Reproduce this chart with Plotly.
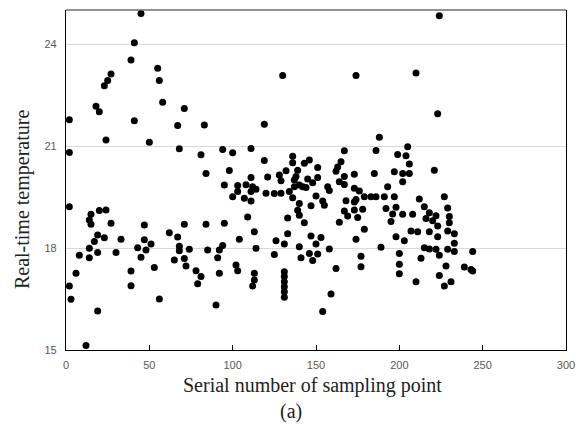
import plotly.graph_objects as go

# Serial number of sampling point (x) and real-time temperature (y)
sample_no = [
    2, 2, 2, 2, 3, 6, 8, 12, 14, 14, 14, 15, 15, 17, 19, 19, 18, 19, 20, 20,
    23, 23, 24, 24, 25, 27, 27, 30, 33, 39, 39, 39, 41, 41, 43, 45, 45, 47, 47, 48,
    50, 51, 53, 55, 56, 56, 58, 62, 65, 67, 67, 68, 68, 68, 71, 71, 71, 72, 74, 78,
    79, 81, 81, 83, 84, 84, 85, 90, 91, 92, 92, 94, 94, 95, 95, 98, 100, 100, 102, 103,
    103, 103, 104, 107, 108, 109, 111, 111, 111, 111, 112, 112, 113, 113, 113, 114, 114, 119, 119, 120,
    121, 125, 125, 126, 128, 129, 129, 130, 131, 131, 131, 131, 131, 131, 131, 132, 133, 133, 134, 136,
    136, 137, 138, 137, 136, 139, 139, 140, 140, 140, 140, 141, 143, 143, 142, 144, 145, 146, 146, 147,
    147, 148, 150, 151, 151, 150, 151, 153, 154, 154, 155, 157, 158, 158, 159, 162, 163, 165, 164, 164,
    167, 167, 167, 167, 168, 169, 173, 173, 173, 173, 174, 174, 174, 175, 176, 179, 178, 179, 177, 177,
    183, 186, 191, 197, 185, 186, 188, 189, 192, 193, 195, 196, 197, 198, 198, 199, 200, 200, 200, 202,
    202, 202, 203, 204, 205, 206, 206, 207, 208, 210, 210, 211, 212, 213, 215, 215, 216, 218, 218, 218,
    220, 221, 222, 222, 223, 224, 223, 223, 224, 224, 227, 227, 228, 229, 229, 229, 230, 230, 231, 233,
    233, 233, 239, 244, 243, 244, 148, 162,
]
temperature = [
    21.77, 20.81, 19.21, 16.88, 16.49, 17.26, 17.79, 15.13, 17.71, 17.99, 18.82, 18.99, 18.70, 18.19, 16.15, 17.87, 22.17, 18.38, 19.10, 22.01,
    22.77, 18.30, 19.12, 21.18, 22.93, 23.12, 18.73, 17.87, 18.26, 17.32, 16.89, 23.53, 24.04, 21.74, 18.01, 24.90, 17.73, 18.68, 18.24, 17.94,
    21.11, 18.12, 17.43, 23.29, 22.93, 16.50, 22.29, 18.45, 17.65, 21.60, 18.32, 20.92, 18.05, 17.92, 17.69, 18.70, 22.10, 17.47, 17.96, 17.33,
    16.95, 17.16, 20.74, 21.62, 20.19, 18.70, 17.94, 16.32, 17.71, 17.94, 17.26, 18.07, 20.90, 19.85, 18.73, 20.28, 20.80, 19.51, 17.50, 17.33,
    19.84, 19.66, 18.26, 19.46, 19.86, 18.91, 20.93, 20.07, 19.66, 19.38, 19.80, 16.88, 17.26, 17.06, 18.48, 17.99, 19.73, 21.64, 20.57, 19.61,
    20.09, 19.60, 17.81, 18.21, 20.15, 19.61, 19.98, 23.07, 18.12, 17.30, 17.16, 17.01, 16.86, 16.71, 16.55, 20.27, 18.42, 18.88, 19.66, 20.70,
    20.51, 20.00, 20.10, 19.80, 19.48, 19.11, 20.29, 19.85, 18.04, 18.96, 19.31, 17.71, 20.49, 18.74, 19.80, 19.78, 20.03, 20.59, 17.84, 19.24,
    18.35, 19.92, 19.53, 20.37, 20.07, 18.12, 17.82, 18.31, 16.13, 19.38, 19.26, 19.80, 19.69, 17.97, 16.65, 20.26, 20.38, 20.54, 19.95, 18.76,
    19.09, 20.86, 20.10, 19.87, 19.39, 18.94, 20.17, 19.76, 19.35, 19.12, 19.43, 18.26, 23.07, 18.90, 19.68, 19.51, 19.14, 18.55, 17.76, 17.45,
    19.51, 19.51, 19.51, 19.51, 20.19, 20.87, 21.26, 18.02, 19.16, 19.80, 18.78, 19.00, 20.24, 19.20, 18.33, 20.75, 17.84, 17.52, 17.24, 19.95,
    18.99, 20.19, 18.21, 20.71, 20.98, 20.47, 20.19, 18.50, 18.99, 23.15, 17.01, 18.48, 19.44, 17.70, 18.01, 19.21, 18.87, 19.04, 17.97, 18.48,
    18.80, 20.29, 18.95, 17.96, 21.95, 24.83, 18.65, 18.33, 17.79, 17.19, 19.51, 16.88, 17.47, 19.18, 18.50, 17.96, 18.93, 18.74, 17.01, 18.42,
    18.14, 17.90, 17.44, 17.90, 17.37, 17.32, 17.63, 17.40,
]

x_ticks = [0, 50, 100, 150, 200, 250, 300]
y_ticks = [15, 18, 21, 24]

x_title = "Serial number of sampling point"
y_title = "Real-time temperature"
caption = "(a)"

serif = "Liberation Serif, Times New Roman, serif"
sans = "Liberation Sans, Arial, sans-serif"

fig = go.Figure(
    go.Scatter(
        x=sample_no,
        y=temperature,
        mode="markers",
        marker=dict(color="black", size=7, line=dict(width=0)),
        showlegend=False,
        hoverinfo="x+y",
    )
)

fig.update_layout(
    width=588,
    height=432,
    margin=dict(l=66, r=22, t=10, b=82),
    paper_bgcolor="white",
    plot_bgcolor="white",
    xaxis=dict(
        range=[0, 300],
        tickvals=x_ticks,
        ticks="inside",
        ticklen=5,
        tickcolor="black",
        showgrid=False,
        zeroline=False,
        showline=True,
        linecolor="black",
        linewidth=1.3,
        mirror=False,
        tickfont=dict(family=sans, size=11, color="#595959"),
        ticklabelstandoff=5,
    ),
    yaxis=dict(
        range=[15, 25],
        tickvals=y_ticks,
        ticks="",
        showgrid=True,
        gridcolor="#d9d9d9",
        gridwidth=1,
        zeroline=False,
        showline=True,
        linecolor="black",
        linewidth=1.3,
        mirror=True,
        tickfont=dict(family=sans, size=11, color="#595959"),
        ticklabelstandoff=6,
    ),
    shapes=[
        dict(type="line", xref="paper", yref="paper", x0=0, x1=1, y0=1, y1=1,
             line=dict(color="#6e6e6e", width=1.5)),
    ],
    annotations=[
        dict(text=x_title, xref="paper", yref="paper", x=0.492, y=-0.103,
             xanchor="center", yanchor="middle", showarrow=False,
             font=dict(family=serif, size=20, color="#222222")),
        dict(text=caption, xref="paper", yref="paper", x=0.45, y=-0.182,
             xanchor="center", yanchor="middle", showarrow=False,
             font=dict(family=serif, size=20, color="#222222")),
        dict(text=y_title, xref="paper", yref="paper", x=-0.088, y=0.441,
             xanchor="center", yanchor="middle", showarrow=False, textangle=-90,
             font=dict(family=serif, size=20, color="#222222")),
    ],
)

fig.write_html("out.html")
